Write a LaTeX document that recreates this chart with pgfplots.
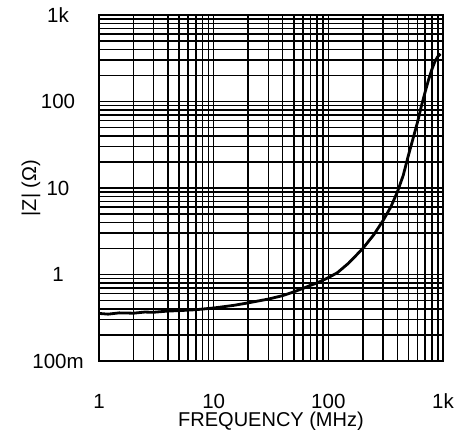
\documentclass[border=0pt]{standalone}
\usepackage{fontspec}
\setmainfont{Liberation Sans}
\usepackage{pgfplots}
\pgfplotsset{compat=1.18}

\begin{document}
\begin{tikzpicture}
\useasboundingbox (-99pt,-68pt) rectangle (362pt,361pt);
\begin{axis}[
    scale only axis,
    width=344pt, height=346pt,
    xmode=log, ymode=log,
    xmin=1, xmax=1000,
    ymin=0.1, ymax=1000,
    xtick={1,10,100,1000},
    xticklabels={1,10,100,1k},
    ytick={0.1,1,10,100,1000},
    yticklabels={100m,1,10,100,1k},
    font=\fontsize{20}{23}\selectfont,
    tick label style={font=\fontsize{20.5}{23}\selectfont},
    /pgf/number format/assume math mode=true,
    major tick length=0pt, minor tick length=0pt,
    grid=both,
    major grid style={black, line width=1.5pt},
    minor grid style={black, line width=1.5pt},
    axis line style={black, line width=2.2pt},
    xticklabel style={anchor=center, yshift=-40pt},
    yticklabel style={anchor=center, xshift=-41pt},
    xlabel={FREQUENCY (MHz)},
    ylabel={|Z| (Ω)},
    xlabel style={at={(rel axis cs:0.5,0)}, anchor=center, yshift=-60pt},
    ylabel style={at={(rel axis cs:0,0.5)}, anchor=center, yshift=68pt},
]
\addplot[black, line width=2.8pt, line join=round] coordinates {
    (1,0.355) (1.2,0.348) (1.5,0.36) (2,0.357) (2.5,0.368) (3,0.366)
    (4,0.378) (5,0.382) (7,0.392) (10,0.41) (15,0.44) (20,0.47)
    (30,0.52) (40,0.57) (50,0.63) (60,0.69) (70,0.75) (80,0.80)
    (100,0.92) (120,1.05) (150,1.35) (200,2.0) (250,2.9) (300,4.2)
    (350,6.0) (400,9.0) (450,14) (500,24) (550,38) (600,58)
    (650,90) (700,130) (750,180) (800,235) (850,290) (900,330) (950,355)
};
\end{axis}
\end{tikzpicture}
\end{document}
